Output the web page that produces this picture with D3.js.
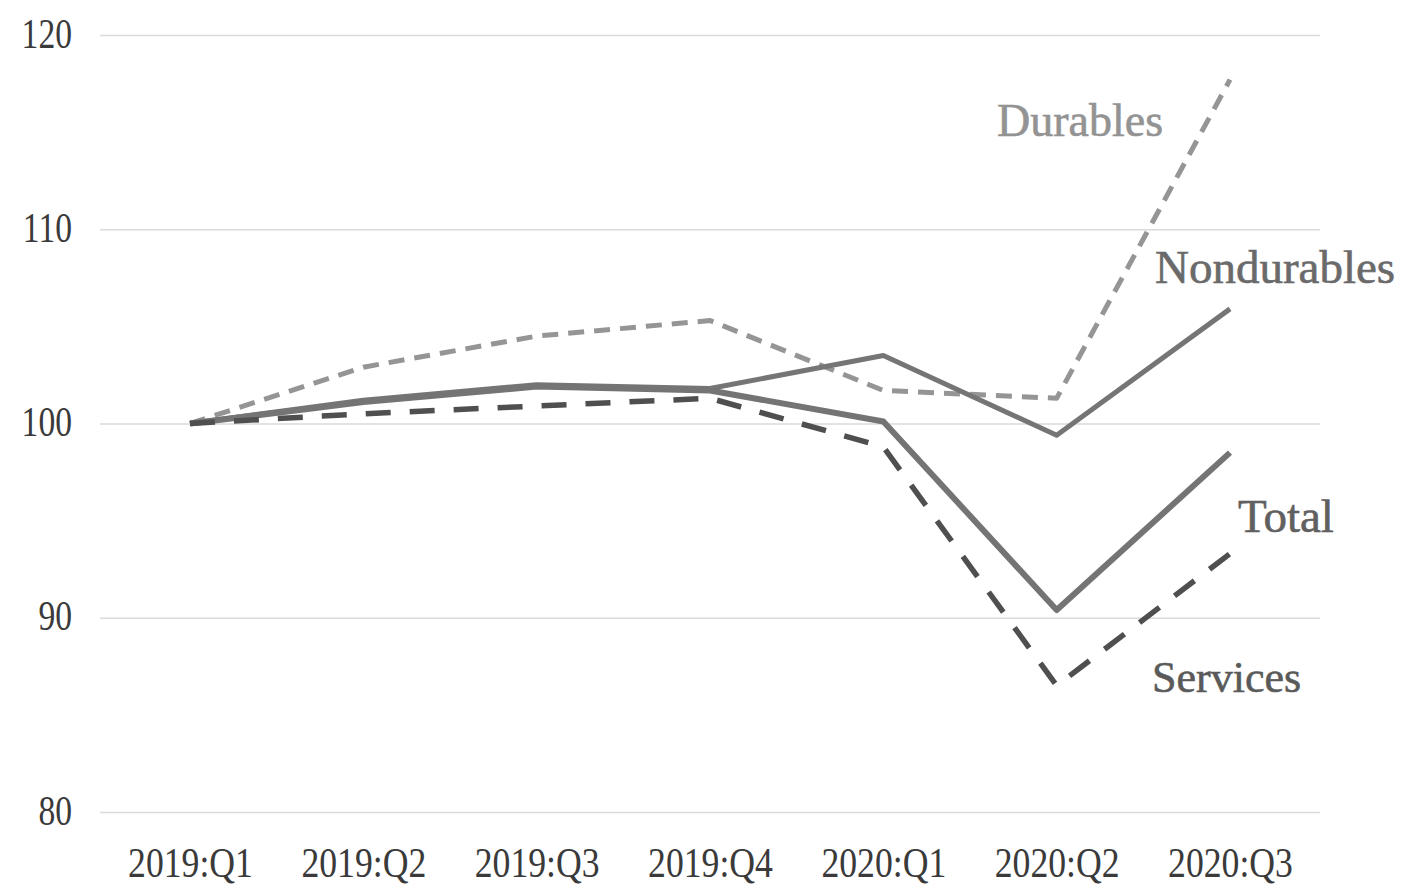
<!DOCTYPE html>
<html lang="en">
<head>
<meta charset="utf-8">
<title>Consumption by type, 2019:Q1 = 100</title>
<script src="https://d3js.org/d3.v7.min.js"></script>
<style>
 body { margin: 0; background: #fff; }
 text { font-family: "Liberation Serif", "DejaVu Serif", serif; }
</style>
</head>
<body>
<script>
// Data (index, 2019:Q1 = 100)
const quarters = ['2019:Q1', '2019:Q2', '2019:Q3', '2019:Q4', '2020:Q1', '2020:Q2', '2020:Q3'];
const durables = [100, 102.9, 104.5, 105.3, 101.7, 101.3, 117.7];
const nondurables = [100, 101.2, 102.0, 101.8, 103.5, 99.4, 105.9];
const total = [100, 101.1, 101.9, 101.7, 100.1, 90.4, 98.5];
const services = [100, 100.5, 100.9, 101.3, 98.8, 86.5, 93.3];
const yTicks = [80, 90, 100, 110, 120];

const W = 1402, H = 891;

const svg = d3.select('body').append('svg')
    .attr('width', W)
    .attr('height', H);

const x = d3.scalePoint().domain(quarters).range([190, 1230]);
const y = d3.scaleLinear().domain([80, 120]).range([812, 35]);

// y axis + gridlines
const yAxis = svg.append('g')
    .attr('transform', 'translate(100,0)')
    .call(d3.axisLeft(y).tickValues(yTicks).tickSize(-1220).tickFormat(d3.format('d')));
yAxis.select('.domain').remove();
yAxis.selectAll('.tick line')
    .attr('stroke', '#dadada')
    .attr('stroke-width', 1.6);
yAxis.selectAll('.tick text')
    .attr('x', -35)
    .attr('dy', 12)
    .attr('fill', '#3a3a3a')
    .style('font-size', '42px')
    .attr('transform', 'scale(0.8,1)');

// x axis labels
const xAxis = svg.append('g')
    .attr('transform', 'translate(0,812)')
    .call(d3.axisBottom(x).tickSize(0));
xAxis.select('.domain').remove();
xAxis.selectAll('.tick text')
    .attr('y', 65)
    .attr('dy', 0)
    .attr('fill', '#3a3a3a')
    .style('font-size', '42px')
    .attr('transform', 'scale(0.85,1)');

const line = d3.line()
    .x((d, i) => x(quarters[i]))
    .y(d => y(d));

const series = [
    {name: 'Durables', values: durables, color: '#959595', width: 5, dash: '16,10'},
    {name: 'Nondurables', values: nondurables, color: '#757575', width: 5, dash: null},
    {name: 'Total', values: total, color: '#747474', width: 6, dash: null},
    {name: 'Services', values: services, color: '#4f4f4f', width: 5.5, dash: '25,19'}
];

svg.selectAll('.series')
    .data(series)
    .enter()
    .append('path')
    .attr('class', 'series')
    .attr('d', d => line(d.values))
    .attr('fill', 'none')
    .attr('stroke', d => d.color)
    .attr('stroke-width', d => d.width)
    .attr('stroke-dasharray', d => d.dash)
    .attr('stroke-linejoin', 'round');

// series labels
const labels = [
    {text: 'Durables', x: 997, y: 136, color: '#939393', size: 46},
    {text: 'Nondurables', x: 1155, y: 283, color: '#6a6a6a', size: 47},
    {text: 'Total', x: 1238, y: 532, color: '#606060', size: 47},
    {text: 'Services', x: 1152, y: 692, color: '#5a5a5a', size: 44}
];

svg.selectAll('.label')
    .data(labels)
    .enter()
    .append('text')
    .attr('class', 'label')
    .attr('x', d => d.x)
    .attr('y', d => d.y)
    .attr('fill', d => d.color)
    .attr('stroke', d => d.color)
    .attr('stroke-width', 0.6)
    .style('font-size', d => d.size + 'px')
    .text(d => d.text);
</script>
</body>
</html>
